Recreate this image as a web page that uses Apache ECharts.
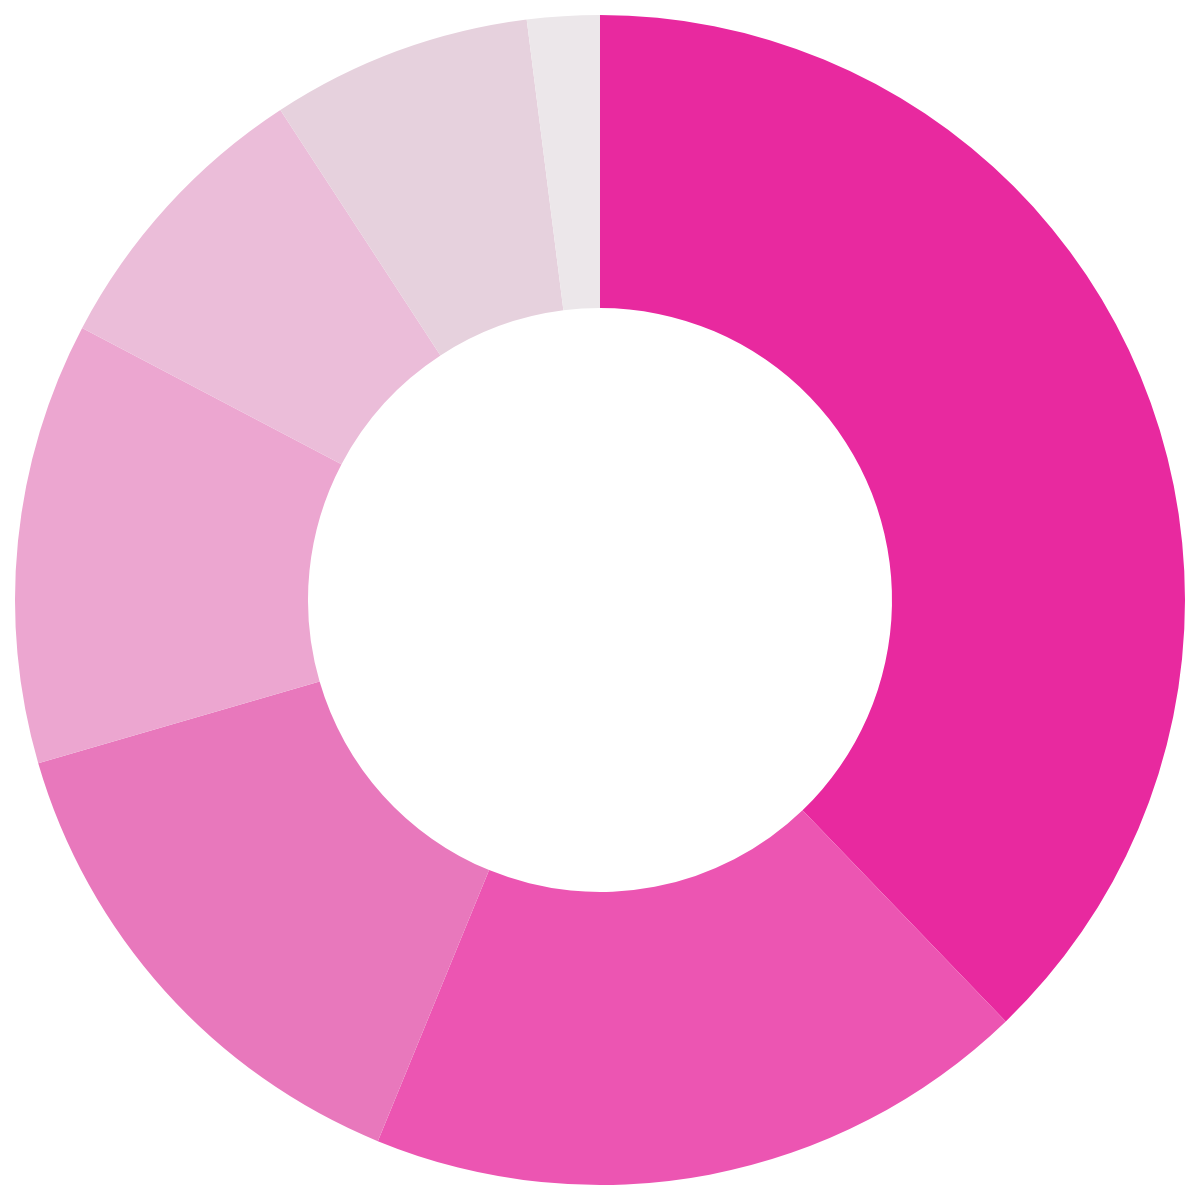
<!DOCTYPE html>
<html>
<head>
<meta charset="utf-8">
<style>
  html, body { margin: 0; padding: 0; background: #fff; }
  #chart { width: 1200px; height: 1200px; }
</style>
<script src="https://cdn.jsdelivr.net/npm/echarts@6/dist/echarts.min.js"></script>
</head>
<body>
<div id="chart"></div>
<script>
// slice shares, clockwise from 12 o'clock
var sliceNames = ['A', 'B', 'C', 'D', 'E', 'F', 'G'];
var sliceValues = [37.8, 18.4, 14.3, 12.2, 8.1, 7.2, 2.0];
var sliceColors = ['#e8299f', '#ec55b2', '#e878bc', '#eca6d0', '#ebbdd9', '#e6d1dd', '#ece7ea'];

var data = [];
for (var i = 0; i < sliceValues.length; i++) {
  data.push({ name: sliceNames[i], value: sliceValues[i], itemStyle: { color: sliceColors[i] } });
}

var chart = echarts.init(document.getElementById('chart'));
chart.setOption({
  animation: false,
  series: [{
    type: 'pie',
    center: [600, 600],
    radius: [292, 585],
    startAngle: 90,
    clockwise: true,
    label: { show: false },
    labelLine: { show: false },
    emphasis: { disabled: true },
    itemStyle: { borderWidth: 0 },
    data: data
  }]
});
</script>
</body>
</html>
